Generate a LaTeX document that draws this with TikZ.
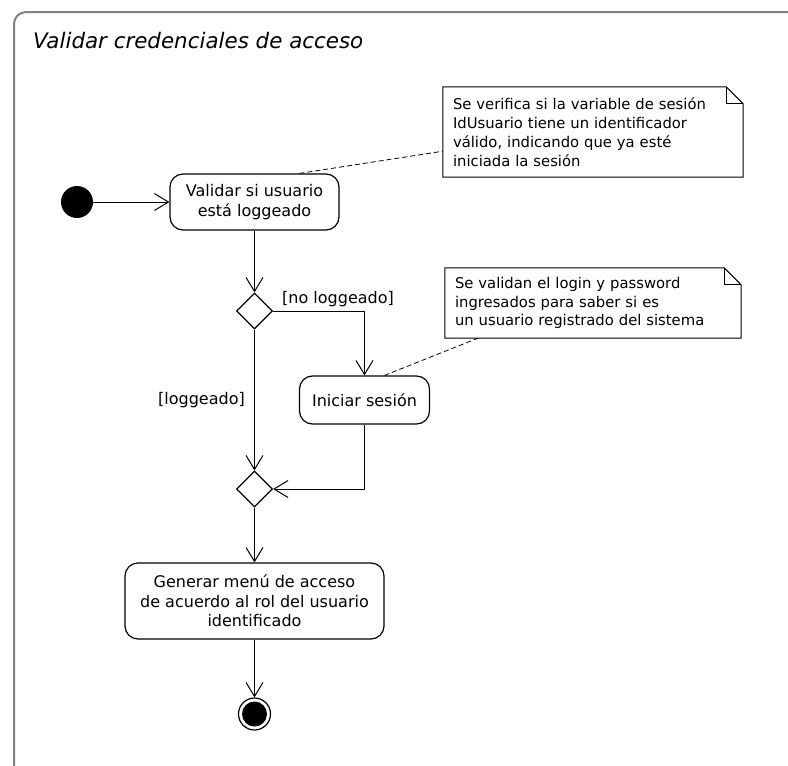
\documentclass[tikz,border=0pt]{standalone}
\usepackage{fontspec}
\setmainfont{DejaVu Sans}
\usetikzlibrary{arrows.meta,shapes.geometric,calc}
\definecolor{framegray}{RGB}{130,130,130}
\begin{document}
\begin{tikzpicture}[x=1pt,y=-1pt,
  flow/.style={draw=black, line width=1pt,
    -{Straight Barb[length=14pt,width=17pt,line width=1pt]}},
  action/.style={draw=black, line width=1.2pt, rounded corners=13pt,
    align=center, font=\fontsize{16}{19.5}\selectfont, inner sep=0pt},
  notebody/.style={align=left, font=\fontsize{14.8}{18.8}\selectfont,
    inner xsep=10pt, inner ysep=0pt},
  noteframe/.style={draw=black, line width=1pt},
  choice/.style={diamond, draw=black, line width=1.2pt, minimum width=36pt,
    minimum height=36pt, inner sep=0pt},
  guard/.style={font=\fontsize{16}{19.5}\selectfont, inner sep=0pt},
  notelink/.style={draw=black, line width=0.8pt, dash pattern=on 5pt off 3pt},
]
\useasboundingbox (0,0) rectangle (788,766);
\fill[white] (0,0) rectangle (788,766);

% activity frame, running past the right and bottom edges
\draw[framegray, line width=2pt, rounded corners=12pt]
  (14,800) -- (14,12) -- (820,12);
\node[anchor=base west, inner sep=0pt,
  font=\fontsize{21.4}{24}\selectfont\itshape] (title) at (33,48)
  {Validar credenciales de acceso};

% nodes
\node[circle, fill=black, minimum size=32pt, inner sep=0pt] (start) at (77,202) {};
\node[action, minimum width=169pt, minimum height=56pt] (a1) at (254.5,202)
  {Validar si usuario\\está loggeado};
\node[choice] (d1) at (254.5,311) {};
\node[action, minimum width=130pt, minimum height=48pt] (a2) at (364.5,400)
  {Iniciar sesión};
\node[choice] (d2) at (254.5,489) {};
\node[action, minimum width=259pt, minimum height=76pt] (a3) at (254.5,601)
  {Generar menú de acceso\\de acuerdo al rol del usuario\\identificado};
\node[circle, draw=black, line width=1.2pt, minimum size=32pt, inner sep=0pt]
  (fin) at (254.5,714) {};
\fill (fin.center) circle[radius=12.5pt];

% notes
\node[notebody, text width=280pt, minimum height=90pt] (n1) at (593,132)
  {Se verifica si la variable de sesión\\IdUsuario tiene un identificador\\válido, indicando que ya esté\\iniciada la sesión};
\node[notebody, text width=276pt, minimum height=70pt] (n2) at (593,303)
  {Se validan el login y password\\ingresados para saber si es\\un usuario registrado del sistema};
\foreach \n in {n1,n2}{
  \draw[noteframe] (\n.north west) -- ($(\n.north east)+(-17pt,0pt)$)
    -- ($(\n.north east)+(0pt,-17pt)$) -- (\n.south east) -- (\n.south west) -- cycle;
  \draw[noteframe] ($(\n.north east)+(-17pt,0pt)$) -- ($(\n.north east)+(-17pt,-17pt)$)
    -- ($(\n.north east)+(0pt,-17pt)$);
}
\draw[notelink] ($(a1.north)+(45pt,0pt)$) -- ($(n1.south west)+(0pt,26pt)$);
\draw[notelink] ($(a2.north)+(20pt,0pt)$) -- ($(n2.south west)+(33pt,0pt)$);

% control flow
\draw[flow] (start) -- (a1.west);
\draw[flow] (a1.south) -- (d1.north);
\draw[flow] (d1.east) -| (a2.north);
\draw[flow] (d1.south) -- (d2.north);
\draw[flow] (a2.south) |- (d2.east);
\draw[flow] (d2.south) -- (a3.north);
\draw[flow] (a3.south) -- (fin.north);

% guards
\node[guard, anchor=base west] (g1) at (282,303) {[no loggeado]};
\node[guard, anchor=base east] (g2) at (245,404) {[loggeado]};
\end{tikzpicture}
\end{document}
